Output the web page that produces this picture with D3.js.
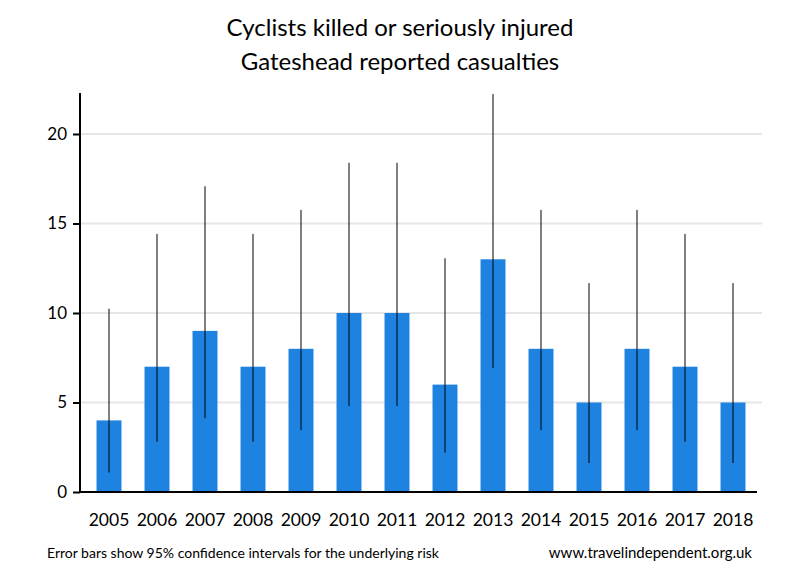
<!DOCTYPE html>
<html><head><meta charset="utf-8">
<script src="https://cdn.jsdelivr.net/npm/d3@7"></script>
<style>body{margin:0;background:#fff;}text{font-family:Lato,"Open Sans",sans-serif;}</style>
</head><body>
<svg id="chart" width="800" height="580"></svg>
<script>
const years = ["2005","2006","2007","2008","2009","2010","2011","2012","2013","2014","2015","2016","2017","2018"];
const values = [4,7,9,7,8,10,10,6,13,8,5,8,7,5];
const lowerCI = [1.09,2.81,4.12,2.81,3.45,4.80,4.80,2.20,6.92,3.45,1.62,3.45,2.81,1.62];
const upperCI = [10.24,14.42,17.08,14.42,15.76,18.39,18.39,13.06,22.23,15.76,11.67,15.76,14.42,11.67];
const yTicks = [0,5,10,15,20];

const svg = d3.select("#chart");
const x = d3.scaleBand().domain(years).range([85,757]).paddingInner(0.48).paddingOuter(0.24);
const y = d3.scaleLinear().domain([0,22.29]).range([492,93]);

// gridlines
svg.append("g").selectAll("line").data(yTicks.filter(d=>d>0)).join("line")
  .attr("x1",80).attr("x2",762).attr("y1",d=>y(d)).attr("y2",d=>y(d))
  .attr("stroke","#e6e6e6").attr("stroke-width",2);

// bars
svg.append("g").selectAll("rect").data(years).join("rect")
  .attr("x",d=>x(d)).attr("width",x.bandwidth())
  .attr("y",(d,i)=>y(values[i])).attr("height",(d,i)=>y(0)-y(values[i]))
  .attr("fill","#1e83e0");

// error bars
svg.append("g").selectAll("line").data(years).join("line")
  .attr("x1",d=>x(d)+x.bandwidth()/2).attr("x2",d=>x(d)+x.bandwidth()/2)
  .attr("y1",(d,i)=>y(lowerCI[i])).attr("y2",(d,i)=>y(upperCI[i]))
  .attr("stroke","#000").attr("stroke-width",1);

// y axis
const yAxis = svg.append("g").attr("transform","translate(80,0)")
  .call(d3.axisLeft(y).tickValues(yTicks).tickSize(7).tickPadding(6));
yAxis.select(".domain").remove();
yAxis.selectAll(".tick line").attr("stroke","#000").attr("stroke-width",2);
yAxis.selectAll("text").attr("font-size",17).attr("fill","#000").style("font-family","Lato, 'Open Sans', sans-serif");
svg.append("line").attr("x1",80).attr("x2",80).attr("y1",93).attr("y2",493).attr("stroke","#000").attr("stroke-width",2);

// x axis
const xAxis = svg.append("g").attr("transform","translate(0,492)")
  .call(d3.axisBottom(x).tickSize(0).tickPadding(22));
xAxis.select(".domain").remove();
xAxis.selectAll("text").attr("font-size",17.5).attr("fill","#000").style("font-family","Lato, 'Open Sans', sans-serif");
svg.append("line").attr("x1",79).attr("x2",757).attr("y1",492).attr("y2",492).attr("stroke","#000").attr("stroke-width",2);

// titles
svg.append("text").attr("x",400).attr("y",36).attr("text-anchor","middle").attr("font-size",24).text("Cyclists killed or seriously injured");
svg.append("text").attr("x",400).attr("y",70).attr("text-anchor","middle").attr("font-size",24).text("Gateshead reported casualties");

// footers
svg.append("text").attr("x",47).attr("y",558).attr("font-size",14).text("Error bars show 95% confidence intervals for the underlying risk");
svg.append("text").attr("x",752).attr("y",558).attr("text-anchor","end").attr("font-size",15).text("www.travelindependent.org.uk");
</script>
</body></html>
